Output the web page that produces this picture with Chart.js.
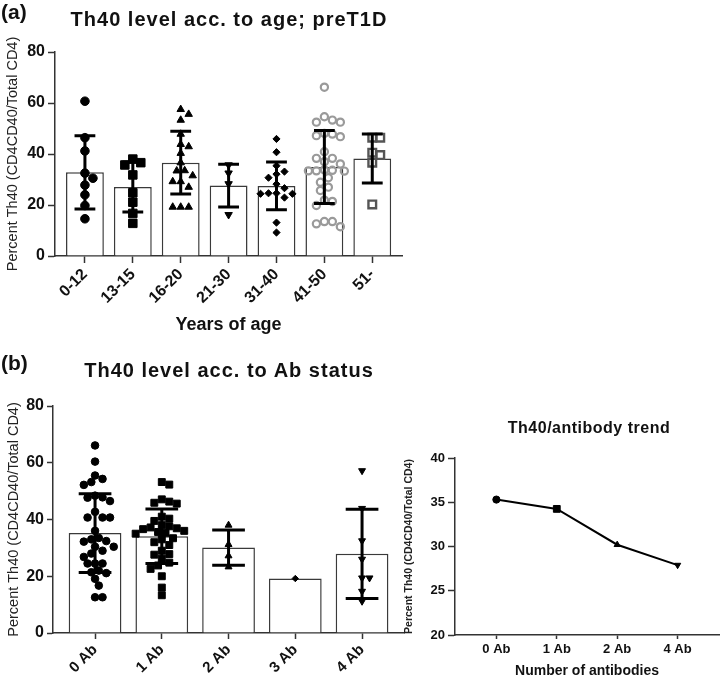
<!DOCTYPE html>
<html>
<head>
<meta charset="utf-8">
<script src="https://cdn.jsdelivr.net/npm/chart.js@4.4.1/dist/chart.umd.min.js"></script>
<style>
    body { margin: 0; background: #fff; }
    #wrap { position: relative; width: 724px; height: 682px; font-family: "Liberation Sans", Arial, sans-serif; color: #111; }
    canvas { position: absolute; }
    .label { position: absolute; font-weight: bold; font-size: 21px; line-height: 24px; }
    .title { position: absolute; font-weight: bold; text-align: center; white-space: nowrap; }
</style>
</head>
<body>
<div id="wrap">
    <canvas id="ageChart" width="410" height="340" style="left:0;top:0"></canvas>
    <canvas id="abChart" width="410" height="342" style="left:0;top:340px"></canvas>
    <canvas id="trendChart" width="324" height="242" style="left:400px;top:440px"></canvas>
    <div class="label" style="left:1px;top:0">(a)</div>
    <div class="title" style="left:29px;top:9px;width:400px;font-size:20px;line-height:20px;letter-spacing:1px">Th40 level acc. to age; preT1D</div>
    <div class="label" style="left:1px;top:351px">(b)</div>
    <div class="title" style="left:29px;top:360px;width:400px;font-size:20px;line-height:20px;letter-spacing:1px">Th40 level acc. to Ab status</div>
    <div class="title" style="left:439px;top:420px;width:300px;font-size:16px;line-height:16px;letter-spacing:0.5px">Th40/antibody trend</div>
</div>
<script>
// ---- (a) Th40 by age group ----
const ageGroups = ['0-12', '13-15', '16-20', '21-30', '31-40', '41-50', '51-'];
const ageMeans = [32.8, 27.1, 36.6, 27.6, 27.5, 34.9, 38.2];
const ageSds = [14.4, 9.8, 12.3, 8.4, 9.4, 14.3, 9.6];
const age0to12 = [60.7, 46.4, 41.2, 32.5, 30.5, 27.8, 24.0, 19.8, 14.6];
const age13to15 = [38.0, 36.6, 35.7, 31.8, 24.8, 21.1, 16.7, 12.8];
const age16to20 = [57.5, 55.6, 53.3, 47.8, 43.8, 42.9, 40.3, 36.6, 33.5, 33.4, 31.5, 29.2, 29.2, 27.0, 19.2, 19.2, 19.2];
const age21to30 = [35.7, 32.5, 28.3, 16.2];
const age31to40 = [45.9, 40.7, 35.4, 33.1, 32.1, 30.7, 28.2, 26.6, 24.6, 24.4, 22.9, 24.4, 24.6, 13.1, 9.2];
const age41to50 = [66.2, 54.6, 52.5, 52.5, 53.3, 47.8, 46.8, 47.2, 48.1, 40.9, 38.3, 36.1, 37.0, 38.3, 33.4,
    33.3, 33.6, 33.4, 33.8, 30.7, 28.9, 27.0, 25.7, 21.4, 19.8, 21.9, 13.5, 11.5, 12.6, 13.5];
const age51up = [46.4, 46.4, 40.5, 39.6, 36.6, 20.2];
const ageTicks = [0, 20, 40, 60, 80];

// ---- (b) Th40 by antibody status ----
const abGroups = ['0 Ab', '1 Ab', '2 Ab', '3 Ab', '4 Ab'];
const abMeans = [35.2, 34.1, 30.1, 19.2, 27.9];
const abSds = [13.9, 9.6, 6.2, null, 15.7];
const ab0 = [66.1, 60.4, 55.5, 54.3, 53.2, 52.2, 48.4, 47.8, 47.7, 46.5, 42.7, 40.7, 40.7, 40.7, 36.0, 33.5, 33.0,
    32.4, 32.2, 30.4, 30.4, 29.0, 28.0, 26.8, 24.5, 24.5, 24.5, 22.0, 21.4, 21.1, 19.1, 16.7, 12.6, 12.6];
const ab1 = [53.2, 52.3, 47.1, 46.3, 45.9, 45.6, 41.0, 40.3, 39.5, 38.0, 37.6, 37.2, 36.9, 36.6, 36.0, 35.6, 35.3,
    35.0, 33.4, 33.0, 32.0, 31.0, 29.0, 27.8, 27.6, 26.2, 24.8, 23.8, 22.6, 20.0, 16.0, 13.3];
const ab2 = [38.0, 31.2, 27.2, 23.3];
const ab3 = [19.2];
const ab4 = [57.2, 43.9, 32.5, 26.0, 19.4, 19.4, 14.7, 11.2];

// ---- trend ----
const trendLabels = ['0 Ab', '1 Ab', '2 Ab', '4 Ab'];
const trendValues = [35.3, 34.25, 30.2, 27.9];
const trendTicks = [20, 25, 30, 35, 40];

const yTitle = 'Percent Th40 (CD4CD40/Total CD4)';
const axisColor = '#333';
const textColor = '#111';

Chart.defaults.font.family = '"Liberation Sans", Arial, sans-serif';
Chart.defaults.color = textColor;

// beeswarm: push each point sideways until it no longer touches the ones already placed
function swarm(values, center, unitPx, catPx, gap) {
    const placed = [];
    values.slice().sort((a, b) => b - a).forEach(v => {
        const y = v * unitPx;
        for (let k = 0; k < 60; k++) {
            const dx = (k % 2 ? 1 : -1) * Math.ceil(k / 2) * gap / 2;
            if (placed.every(p => Math.hypot(p.dx - dx, p.y - y) >= gap)) {
                placed.push({ dx, y, v });
                break;
            }
        }
    });
    return placed.map(p => ({ x: center + p.dx / catPx, y: p.v }));
}

// mean +/- SD whiskers on top of the bars
function errorBars(means, sds, capRatio, width) {
    return {
        id: 'errorBars',
        afterDatasetsDraw(chart) {
            const bars = chart.getDatasetMeta(0).data;
            const y = chart.scales.y;
            const ctx = chart.ctx;
            ctx.save();
            ctx.strokeStyle = '#000';
            ctx.lineWidth = width;
            bars.forEach((bar, i) => {
                if (sds[i] == null) return;
                const top = y.getPixelForValue(means[i] + sds[i]);
                const bot = y.getPixelForValue(means[i] - sds[i]);
                const half = bar.width * capRatio / 2;
                ctx.beginPath();
                ctx.moveTo(bar.x, top); ctx.lineTo(bar.x, bot);
                ctx.moveTo(bar.x - half, top); ctx.lineTo(bar.x + half, top);
                ctx.moveTo(bar.x - half, bot); ctx.lineTo(bar.x + half, bot);
                ctx.stroke();
            });
            ctx.restore();
        }
    };
}

function scatterSet(points, mark) {
    return {
        type: 'scatter',
        order: 0,
        data: points,
        pointStyle: mark.style,
        rotation: mark.rotation || 0,
        pointRadius: mark.radius,
        pointBackgroundColor: mark.fill,
        pointBorderColor: mark.stroke,
        pointBorderWidth: mark.bw
    };
}

function barSet(means) {
    return {
        type: 'bar',
        order: 1,
        data: means.map((m, i) => ({ x: i, y: m })),
        backgroundColor: '#fff',
        borderColor: '#3a3a3a',
        borderWidth: 1.5,
        categoryPercentage: 1,
        barPercentage: 0.79
    };
}

function baseScales(cfg) {
    return {
        x: {
            type: 'linear',
            min: cfg.xMin,
            max: cfg.xMax,
            offset: false,
            afterBuildTicks: s => { s.ticks = cfg.labels.map((_, i) => ({ value: i })); },
            afterFit: s => { s.height = cfg.xHeight; },
            ticks: {
                autoSkip: false,
                callback: v => cfg.labels[v],
                minRotation: cfg.rotation,
                maxRotation: cfg.rotation,
                padding: cfg.xPad,
                color: textColor,
                font: { size: cfg.xFont, weight: 'bold' }
            },
            grid: { drawOnChartArea: false, offset: false, tickLength: cfg.xTick, tickColor: axisColor, tickWidth: 1.5 },
            border: { color: axisColor, width: 1.5 },
            title: cfg.xTitle ? {
                display: true, text: cfg.xTitle, color: textColor,
                font: { size: cfg.xTitleFont, weight: 'bold' }, padding: { top: 0, bottom: cfg.xTitlePad }
            } : { display: false }
        },
        y: {
            min: cfg.yTicks[0],
            max: cfg.yTicks[cfg.yTicks.length - 1],
            afterBuildTicks: s => { s.ticks = cfg.yTicks.map(v => ({ value: v })); },
            afterFit: s => { s.width = cfg.yWidth; },
            ticks: { padding: 3, color: textColor, font: { size: cfg.yFont, weight: 'bold' } },
            grid: { drawOnChartArea: false, tickLength: cfg.yTick, tickColor: axisColor, tickWidth: 1.5 },
            border: { color: axisColor, width: 1.5 },
            title: {
                display: true, text: yTitle, color: '#222',
                font: { size: cfg.yTitleFont, weight: cfg.yTitleWeight }, padding: { top: cfg.yTitlePad, bottom: 0 }
            }
        }
    };
}

// ---- chart (a) ----
const ageMarks = [
    { style: 'circle', radius: 4.3, fill: '#000', stroke: '#000', bw: 1 },
    { style: 'rect', radius: 6, fill: '#000', stroke: '#000', bw: 1 },
    { style: 'triangle', radius: 4.3, fill: '#000', stroke: '#000', bw: 1 },
    { style: 'triangle', rotation: 180, radius: 4.3, fill: '#000', stroke: '#000', bw: 1 },
    { style: 'rectRot', radius: 3.6, fill: '#000', stroke: '#000', bw: 1 },
    { style: 'circle', radius: 3.6, fill: 'rgba(0,0,0,0)', stroke: '#9a9a9a', bw: 2.2 },
    { style: 'rect', radius: 5.4, fill: 'rgba(0,0,0,0)', stroke: '#555', bw: 2.4 }
];
const agePoints = [age0to12, age13to15, age16to20, age21to30, age31to40, age41to50, age51up];

new Chart(document.getElementById('ageChart'), {
    type: 'bar',
    data: {
        datasets: [barSet(ageMeans)].concat(agePoints.map((vals, i) => scatterSet(swarm(vals, i, 2.55, 48, 8), ageMarks[i])))
    },
    options: {
        responsive: false,
        animation: false,
        layout: { padding: { top: 52, right: 7, left: 0, bottom: 0 } },
        plugins: { legend: { display: false }, tooltip: { enabled: false } },
        scales: baseScales({
            labels: ageGroups, xMin: -0.625, xMax: 6.625, xHeight: 84, rotation: 45, xPad: 2, xFont: 16, xTick: 7,
            xTitle: 'Years of age', xTitleFont: 18, xTitlePad: 4,
            yTicks: ageTicks, yWidth: 55, yFont: 16, yTick: 7, yTitleFont: 14.5, yTitleWeight: 'normal', yTitlePad: 4
        })
    },
    plugins: [errorBars(ageMeans, ageSds, 0.55, 3)]
});

// ---- chart (b) ----
const abMarks = [
    { style: 'circle', radius: 3.8, fill: '#000', stroke: '#000', bw: 1 },
    { style: 'rect', radius: 4.9, fill: '#000', stroke: '#000', bw: 1 },
    { style: 'triangle', radius: 4, fill: '#000', stroke: '#000', bw: 1 },
    { style: 'rectRot', radius: 3.2, fill: '#000', stroke: '#000', bw: 1 },
    { style: 'triangle', rotation: 180, radius: 4, fill: '#000', stroke: '#000', bw: 1 }
];
const abPoints = [ab0, ab1, ab2, ab3, ab4];

new Chart(document.getElementById('abChart'), {
    type: 'bar',
    data: {
        datasets: [barSet(abMeans)].concat(abPoints.map((vals, i) => scatterSet(swarm(vals, i, 2.83, 67, 7.5), abMarks[i])))
    },
    options: {
        responsive: false,
        animation: false,
        layout: { padding: { top: 66, right: 5, left: 0, bottom: 0 } },
        plugins: { legend: { display: false }, tooltip: { enabled: false } },
        scales: baseScales({
            labels: abGroups, xMin: -0.63, xMax: 4.63, xHeight: 49, rotation: 45, xPad: 2, xFont: 15, xTick: 6,
            xTitle: null,
            yTicks: ageTicks, yWidth: 53, yFont: 16, yTick: 6, yTitleFont: 14.5, yTitleWeight: 'normal', yTitlePad: 5
        })
    },
    plugins: [errorBars(abMeans, abSds, 0.62, 3)]
});

// ---- trend chart ----
new Chart(document.getElementById('trendChart'), {
    type: 'line',
    data: {
        datasets: [{
            data: trendValues.map((v, i) => ({ x: i, y: v })),
            borderColor: '#000',
            borderWidth: 2,
            tension: 0,
            pointStyle: ['circle', 'rect', 'triangle', 'triangle'],
            rotation: [0, 0, 0, 180],
            pointRadius: [3.6, 4.8, 3.6, 3.6],
            pointBackgroundColor: '#000',
            pointBorderColor: '#000',
            pointBorderWidth: 1
        }]
    },
    options: {
        responsive: false,
        animation: false,
        layout: { padding: { top: 18, right: 1, left: 0, bottom: 0 } },
        plugins: { legend: { display: false }, tooltip: { enabled: false } },
        scales: baseScales({
            labels: trendLabels, xMin: -0.685, xMax: 3.685, xHeight: 47, rotation: 0, xPad: 3, xFont: 13, xTick: 4,
            xTitle: 'Number of antibodies', xTitleFont: 14, xTitlePad: 2,
            yTicks: trendTicks, yWidth: 55, yFont: 13, yTick: 7, yTitleFont: 10.5, yTitleWeight: 'bold', yTitlePad: 3
        })
    }
});
</script>
</body>
</html>
